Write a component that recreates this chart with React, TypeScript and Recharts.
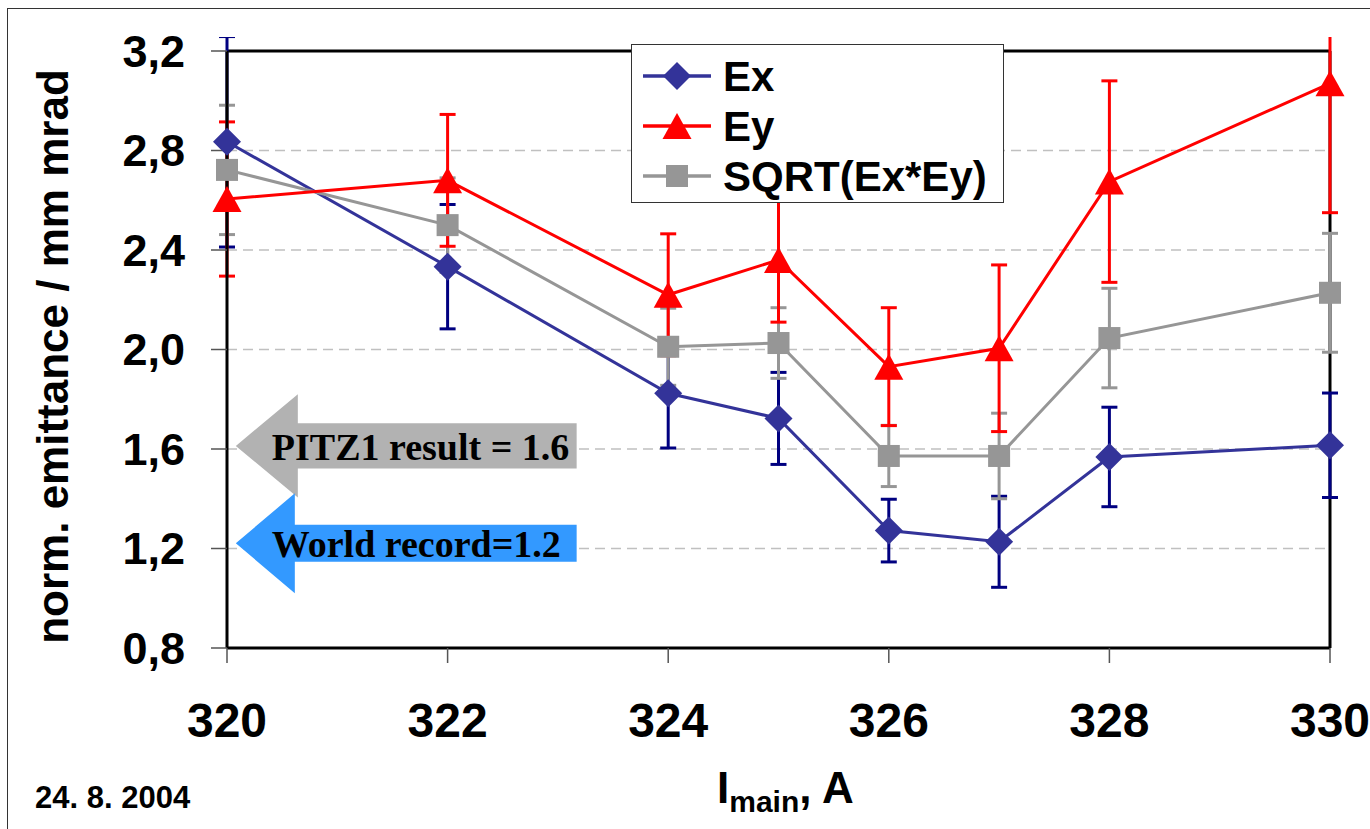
import { LineChart, Line, XAxis, YAxis, CartesianGrid, ErrorBar, ReferenceLine, ReferenceArea, Legend, Customized } from "recharts";

// main solenoid current, A
const currents = [320, 322, 324, 325, 326, 327, 328, 330];
// emittance values (mm mrad) and their errors
const exValues = [2.835, 2.333, 1.824, 1.723, 1.272, 1.227, 1.568, 1.615];
const exErrors = [0.423, 0.25, 0.22, 0.185, 0.126, 0.183, 0.2, 0.21];
const eyValues = [2.605, 2.68, 2.22, 2.36, 1.931, 2.005, 2.675, 3.07];
const eyErrors = [0.31, 0.265, 0.245, 0.25, 0.237, 0.335, 0.405, 0.52];
const sqValues = [2.722, 2.5, 2.011, 2.026, 1.572, 1.572, 2.046, 2.228];
const sqErrors = [0.26, 0.19, 0.155, 0.142, 0.123, 0.172, 0.2, 0.239];

const xTicks = [320, 322, 324, 326, 328, 330];
const yTicks = [0.8, 1.2, 1.6, 2.0, 2.4, 2.8, 3.2];

const seriesNames = ["Ex", "Ey", "SQRT(Ex*Ey)"];

const data = currents.map((c, i) => ({
  current: c,
  ex: exValues[i],
  exErr: exErrors[i],
  ey: eyValues[i],
  eyErr: eyErrors[i],
  sq: sqValues[i],
  sqErr: sqErrors[i],
}));

const SANS = "'Liberation Sans', Arial, sans-serif";
const SERIF = "'Liberation Serif', 'Times New Roman', serif";

const EX_COLOR = "#333399";
const EX_ERR = "#000080";
const EY_COLOR = "#FF0000";
const SQ_COLOR = "#969696";

// annotation arrows pointing at the reference values
const arrows = [
  { text: "PITZ1 result = 1.6", fill: "#B2B2B2", y1: 1.405, y2: 1.82, body: 0.44, head: 62 },
  { text: "World record=1.2", fill: "#3399FF", y1: 1.02, y2: 1.422, body: 0.37, head: 59 },
];

function diamond(cx: number, cy: number, r: number, color: string, key?: string) {
  return <polygon key={key} points={`${cx},${cy - r} ${cx + r},${cy} ${cx},${cy + r} ${cx - r},${cy}`} fill={color} />;
}
function triangle(cx: number, cy: number, color: string, key?: string) {
  return <polygon key={key} points={`${cx},${cy - 13} ${cx + 14.5},${cy + 13} ${cx - 14.5},${cy + 13}`} fill={color} />;
}
function square(cx: number, cy: number, color: string, key?: string) {
  return <rect key={key} x={cx - 11} y={cy - 11} width={22} height={22} fill={color} />;
}

const ExDot = (p: any) => diamond(p.cx, p.cy, 14, EX_COLOR, `ex-${p.index}`);
const EyDot = (p: any) => triangle(p.cx, p.cy, EY_COLOR, `ey-${p.index}`);
const SqDot = (p: any) => square(p.cx, p.cy, SQ_COLOR, `sq-${p.index}`);

function LegendBox() {
  const rows = [
    { y: 31, color: EX_COLOR, mark: (x: number, y: number) => diamond(x, y, 14, EX_COLOR) },
    { y: 81, color: EY_COLOR, mark: (x: number, y: number) => triangle(x, y, EY_COLOR) },
    { y: 131, color: SQ_COLOR, mark: (x: number, y: number) => square(x, y, SQ_COLOR) },
  ];
  return (
    <div style={{ width: 373, height: 159, background: "#fff", border: "1.5px solid #333", boxSizing: "border-box" }}>
      <svg width={370} height={156}>
        {rows.map((r, i) => (
          <g key={i}>
            <line x1={11} x2={79} y1={r.y} y2={r.y} stroke={r.color} strokeWidth={3.5} />
            {r.mark(45, r.y)}
            <text x={91} y={r.y + 15} fontFamily={SANS} fontWeight="bold" fontSize={42} fill="#000">
              {seriesNames[i]}
            </text>
          </g>
        ))}
      </svg>
    </div>
  );
}

const ArrowShape = (a: (typeof arrows)[number]) => (p: any) => {
  const { x, y, width, height } = p;
  const cy = y + height / 2;
  const bh = (height * a.body) / 2;
  const hx = x + a.head;
  const pts = [
    [x, cy],
    [hx, y],
    [hx, cy - bh],
    [x + width, cy - bh],
    [x + width, cy + bh],
    [hx, cy + bh],
    [hx, y + height],
  ]
    .map((q) => q.join(","))
    .join(" ");
  return (
    <g>
      <polygon points={pts} fill={a.fill} />
      <text x={x + 36} y={cy + 14} fontFamily={SERIF} fontWeight="bold" fontSize={38} fill="#000">
        {a.text}
      </text>
    </g>
  );
};

function Labels() {
  return (
    <g fontFamily={SANS} fontWeight="bold" fill="#000">
      <defs>
        {/* the original sheet crops over-long error bars a little above the plot frame */}
        <clipPath id="series-clip" clipPathUnits="userSpaceOnUse">
          <rect x={0} y={13} width={1370} height={800} />
        </clipPath>
      </defs>
      <text transform="translate(68, 332.5) rotate(-90)" textAnchor="middle" fontSize={44}>
        norm. emittance / mm mrad
      </text>
      <text x={717} y={779} fontSize={44}>
        I
        <tspan fontSize={30} dy={9}>main</tspan>
        <tspan dy={-9}>, A</tspan>
      </text>
      <text x={35} y={784} fontSize={31}>
        24. 8. 2004
      </text>
    </g>
  );
}

export default function App() {
  return (
    <div style={{ position: "absolute", left: 0, top: 0, width: 1370, height: 829, overflow: "hidden", background: "#fff" }}>
      {/* markers and error bars may run past the plot edge, like in the original */}
      <style>{`.recharts-line, .recharts-line * { clip-path: none !important; }
.recharts-errorBar, .recharts-errorBar line { clip-path: url(#series-clip) !important; }`}</style>
      <div style={{ position: "absolute", left: 7, top: 8, width: 1400, height: 900, borderLeft: "1.5px solid #333", borderTop: "1.5px solid #333" }} />
      <div style={{ position: "absolute", left: 0, top: 24 }}>
        <LineChart width={1370} height={805} data={data} margin={{ top: 27, right: 40, bottom: 0, left: 0 }}>
          <CartesianGrid vertical={false} stroke="#C0C0C0" strokeWidth={1.5} strokeDasharray="10 6" />
          <XAxis
            type="number"
            dataKey="current"
            domain={[320, 330]}
            ticks={xTicks}
            interval={0}
            height={181}
            tickSize={15}
            tickMargin={40}
            axisLine={{ stroke: "#000", strokeWidth: 3 }}
            tickLine={{ stroke: "#555", strokeWidth: 1.5 }}
            tick={{ fontSize: 48, fontWeight: "bold", fill: "#000", fontFamily: SANS }}
          />
          <YAxis
            type="number"
            domain={[0.8, 3.2]}
            allowDataOverflow
            ticks={yTicks}
            interval={0}
            width={227}
            tickSize={16}
            tickMargin={26}
            axisLine={{ stroke: "#000", strokeWidth: 3 }}
            tickLine={{ stroke: "#555", strokeWidth: 1.5 }}
            tickFormatter={(v: number) => v.toFixed(1).replace(".", ",")}
            tick={{ fontSize: 45, fontWeight: "bold", fill: "#000", fontFamily: SANS }}
          />
          <ReferenceLine y={3.2} stroke="#000" strokeWidth={3} />
          <ReferenceLine x={330} stroke="#000" strokeWidth={3} />
          {arrows.map((a, i) => (
            <ReferenceArea key={i} x1={320.08} x2={323.17} y1={a.y1} y2={a.y2} shape={ArrowShape(a)} />
          ))}
          <Line dataKey="ex" name={seriesNames[0]} stroke={EX_COLOR} strokeWidth={3} dot={ExDot} activeDot={false} isAnimationActive={false}>
            <ErrorBar dataKey="exErr" direction="y" width={8} strokeWidth={3} stroke={EX_ERR} />
          </Line>
          <Line dataKey="sq" name={seriesNames[2]} stroke={SQ_COLOR} strokeWidth={3} dot={SqDot} activeDot={false} isAnimationActive={false}>
            <ErrorBar dataKey="sqErr" direction="y" width={8} strokeWidth={3} stroke={SQ_COLOR} />
          </Line>
          <Line dataKey="ey" name={seriesNames[1]} stroke={EY_COLOR} strokeWidth={3} dot={EyDot} activeDot={false} isAnimationActive={false}>
            <ErrorBar dataKey="eyErr" direction="y" width={8} strokeWidth={3} stroke={EY_COLOR} />
          </Line>
          <Customized component={Labels} />
          <Legend
            layout="horizontal"
            verticalAlign="middle"
            align="center"
            content={<LegendBox />}
            wrapperStyle={{ left: 631, top: 20, width: 373, height: 159 }}
          />
        </LineChart>
      </div>
    </div>
  );
}
